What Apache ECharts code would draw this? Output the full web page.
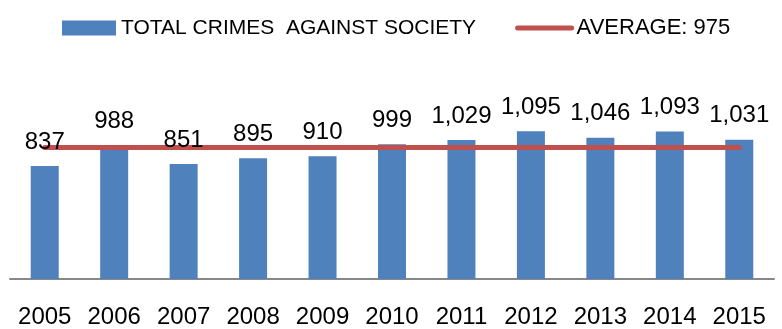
<!DOCTYPE html>
<html>
<head>
<meta charset="utf-8">
<script src="https://cdn.jsdelivr.net/npm/echarts@6/dist/echarts.min.js"></script>
<style>html,body{margin:0;padding:0;background:#fff}#c{width:782px;height:329px}</style>
</head>
<body>
<div id="c"></div>
<script>
const years = ['2005','2006','2007','2008','2009','2010','2011','2012','2013','2014','2015'];
const crimes = [837, 988, 851, 895, 910, 999, 1029, 1095, 1046, 1093, 1031];
const averageValue = 975;
const average = years.map(() => averageValue);
const barName = 'TOTAL CRIMES  AGAINST SOCIETY';
const avgName = 'AVERAGE: ' + averageValue;

const FONT = '"Liberation Sans", Arial, sans-serif';
const chart = echarts.init(document.getElementById('c'));
chart.setOption({
  animation: false,
  legend: {
    top: 12, left: 57,
    itemWidth: 54, itemHeight: 15, itemGap: 39,
    textStyle: { fontFamily: FONT, fontSize: 22, color: '#000' },
    data: [
      { name: barName, icon: 'rect', textStyle: { fontSize: 21 } },
      { name: avgName,
        itemStyle: { opacity: 0 },
        lineStyle: { color: '#C0504D', width: 5, cap: 'round' } }
    ]
  },
  grid: { left: 10, right: 8, top: 117, bottom: 50 },
  xAxis: {
    type: 'category', data: years,
    axisLine: { lineStyle: { color: '#888888', width: 2 } },
    axisTick: { show: false },
    axisLabel: { fontFamily: FONT, fontSize: 24, color: '#000', margin: 26 }
  },
  yAxis: { type: 'value', min: 0, max: 1200, show: false, splitLine: { show: false } },
  series: [
    {
      name: barName, type: 'bar', data: crimes, barWidth: 28, z: 2,
      itemStyle: { color: '#4F81BD' }
    },
    {
      name: avgName, type: 'line', data: average, z: 3,
      symbol: 'none', showSymbol: false,
      lineStyle: { color: '#C0504D', width: 5, cap: 'round' },
      itemStyle: { color: '#C0504D' }
    },
    {
      name: 'labels', type: 'bar', data: crimes, barWidth: 28, barGap: '-100%', z: 4,
      itemStyle: { color: 'rgba(0,0,0,0)' },
      silent: true,
      label: {
        show: true, position: 'top', distance: 12,
        fontFamily: FONT, fontSize: 24, color: '#000',
        formatter: p => p.value.toLocaleString('en-US')
      }
    }
  ]
});
</script>
</body>
</html>
